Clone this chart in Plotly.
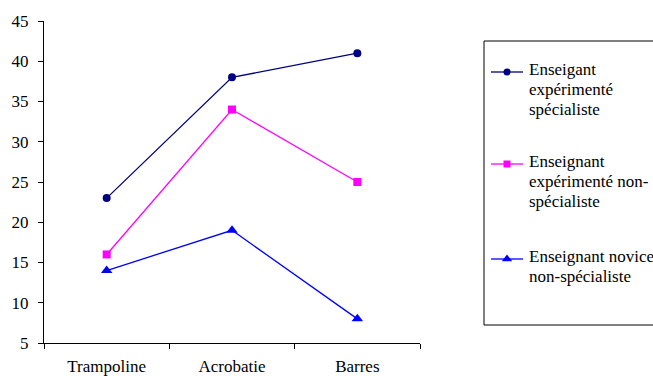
import plotly.graph_objects as go

categories = ["Trampoline", "Acrobatie", "Barres"]
series_names = [
    ["Enseigant", "expérimenté", "spécialiste"],
    ["Enseignant", "expérimenté non-", "spécialiste"],
    ["Enseignant novice", "non-spécialiste"],
]
series_values = [
    [23, 38, 41],
    [16, 34, 25],
    [14, 19, 8],
]
colors = ["#000080", "#FF00FF", "#0000FF"]
symbols = ["circle", "square", "triangle-up"]
marker_sizes = [8, 8, 10]
y_ticks = [5, 10, 15, 20, 25, 30, 35, 40, 45]

W, H = 653, 376
L, R, T, B = 44, 0, 21, 33
plot_right = 420
font = dict(family="'Liberation Serif', 'Times New Roman', Times, serif", size=17, color="black")

fig = go.Figure()

for name, vals, col, sym, ms in zip(series_names, series_values, colors, symbols, marker_sizes):
    fig.add_trace(go.Scatter(
        x=categories, y=vals, mode="lines+markers", name=" ".join(name),
        line=dict(color=col, width=1.3),
        marker=dict(symbol=sym, size=ms, color=col),
        xaxis="x", yaxis="y", showlegend=False,
    ))

# Hand-built legend on an overlay axis measured in pixels
legend_rows = [72, 164, 259]
line_gap = 20
line_x0, line_x1, mark_x = 491, 523, 507
text_x = 527
shapes = [dict(type="rect", xref="x2", yref="y2", x0=484, x1=700, y0=41, y1=325,
               line=dict(color="black", width=1), fillcolor="rgba(0,0,0,0)")]
annotations = []
for name, col, sym, ms, ry in zip(series_names, colors, symbols, marker_sizes, legend_rows):
    shapes.append(dict(type="line", xref="x2", yref="y2", x0=line_x0, x1=line_x1, y0=ry, y1=ry,
                       line=dict(color=col, width=1.3)))
    fig.add_trace(go.Scatter(x=[mark_x], y=[ry], mode="markers", xaxis="x2", yaxis="y2",
                             marker=dict(symbol=sym, size=ms - 1, color=col),
                             showlegend=False, hoverinfo="skip", cliponaxis=False))
    for i, part in enumerate(name):
        annotations.append(dict(xref="x2", yref="y2", x=text_x, y=ry - 3 + line_gap * i,
                                text=part, xanchor="left", yanchor="middle", align="left",
                                showarrow=False, font=font))

plot_w = W - L - R
fig.update_layout(
    width=W, height=H,
    margin=dict(l=L, r=R, t=T, b=B, pad=0, autoexpand=False),
    paper_bgcolor="white", plot_bgcolor="rgba(0,0,0,0)",
    font=font,
    xaxis=dict(domain=[0, (plot_right - L) / plot_w], range=[-0.5, 2.5], automargin=False,
               showline=True, linecolor="black", linewidth=1, showgrid=False, zeroline=False,
               ticks="outside", tickson="boundaries", ticklen=5, tickcolor="black",
               ticklabelstandoff=8, tickfont=font, fixedrange=True),
    yaxis=dict(range=[5, 45], tickvals=y_ticks, automargin=False,
               showline=True, linecolor="black", linewidth=1, showgrid=False, zeroline=False,
               ticks="outside", ticklen=5, tickcolor="black", ticklabelstandoff=6,
               tickfont=font, fixedrange=True),
    xaxis2=dict(domain=[0, 1], range=[L, W - R], visible=False, anchor="y2", fixedrange=True,
                automargin=False),
    yaxis2=dict(domain=[0, 1], range=[H - B, T], visible=False, anchor="x2", fixedrange=True,
                automargin=False),
    shapes=shapes,
    annotations=annotations,
)

fig.write_html("out.html")
